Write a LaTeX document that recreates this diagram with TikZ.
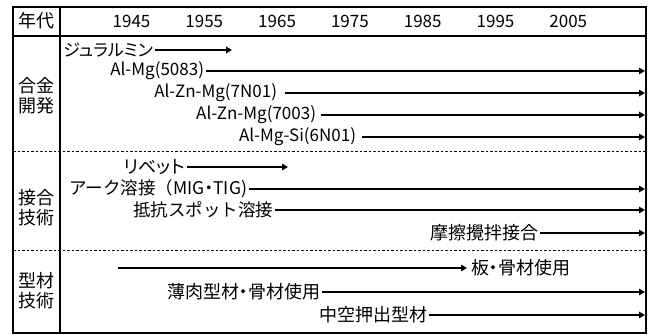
\documentclass[tikz,border=0pt]{standalone}
\usepackage{fontspec}
\newfontfamily\jp{Noto Sans CJK JP}
\newfontfamily\jpp{Noto Sans CJK JP}[RawFeature=+palt]
\usetikzlibrary{arrows.meta}
\begin{document}
\begin{tikzpicture}[x=1pt,y=-1pt,
  frame/.style={line width=2.2pt},
  sep/.style={line width=0.8pt,dash pattern=on 2.5pt off 2pt},
  lbl/.style={font=\jpp\fontsize{18}{20}\selectfont,inner ysep=0pt,inner xsep=1.8pt,anchor=east},
  lat/.style={lbl,font=\jpp\fontsize{17}{20}\selectfont},
  wide/.style={lbl,font=\jp\fontsize{17.5}{20}\selectfont},
  cat/.style={font=\jp\fontsize{18}{20}\selectfont,align=center,inner sep=0pt},
  yr/.style={font=\jp\fontsize{17}{20}\selectfont,inner sep=0pt},
  arr/.style={line width=1.6pt,-{Triangle[length=6pt,width=6.5pt]}}]
\useasboundingbox (0,0) rectangle (649,335);
% frame
\draw[frame] (13,7) rectangle (646,333);
\draw[frame] (60,7) -- (60,333);
\draw[line width=1.8pt] (13,36) -- (646,36);
\draw[sep] (13,151) -- (646,151);
\draw[sep] (13,250) -- (646,250);
% header
\node[cat] (hdr) at (36.5,21) {年代};
\node[yr] (y1945) at (131.5,21) {1945};
\node[yr] (y1955) at (204.3,21) {1955};
\node[yr] (y1965) at (277.1,21) {1965};
\node[yr] (y1975) at (349.9,21) {1975};
\node[yr] (y1985) at (422.7,21) {1985};
\node[yr] (y1995) at (495.5,21) {1995};
\node[yr] (y2005) at (568.3,21) {2005};
% categories
\node[cat] (c1) at (36.5,96) {合金\\開発};
\node[cat] (c2) at (36.5,208) {接合\\技術};
\node[cat] (c3) at (36.5,291) {型材\\技術};
% end coordinates
\coordinate (e1) at (232,50);
\coordinate (e2) at (645,71);
\coordinate (e3) at (645,93);
\coordinate (e4) at (645,115);
\coordinate (e5) at (645,137);
\coordinate (e6) at (288,167);
\coordinate (e7) at (645,189);
\coordinate (e8) at (645,210);
\coordinate (e9) at (645,233);
\coordinate (s10) at (118,268);
\coordinate (e11) at (645,292);
\coordinate (e12) at (645,315);
% texts
\node[lat] (t1) at (155,50) {ジュラルミン};
\node[lat] (t2) at (206,71) {Al-Mg(5083)};
\node[lat] (t3) at (285,93) {Al-Zn-Mg(7N01)\kern6pt};
\node[lat] (t4) at (321,115) {Al-Zn-Mg(7003)\kern3pt};
\node[lat] (t5) at (362,137) {Al-Mg-Si(6N01)\kern4pt};
\node[lbl] (t6) at (187,167) {リベット};
\node[wide] (t7) at (249,189) {アーク溶接（MIG{\jpp ・}TIG)};
\node[wide] (t8) at (275,210) {抵抗スポット溶接};
\node[lbl] (t9) at (540,233) {摩擦攪拌接合};
\node[lbl,anchor=west,inner xsep=4pt] (t10) at (467,268) {板・骨材使用};
\node[lbl] (t11) at (322,292) {薄肉型材・骨材使用};
\node[lbl] (t12) at (429,315) {中空押出型材};
% arrows
\draw[arr] (t1.east) -- (e1);
\draw[arr] (t2.east) -- (e2);
\draw[arr] (t3.east) -- (e3);
\draw[arr] (t4.east) -- (e4);
\draw[arr] (t5.east) -- (e5);
\draw[arr] (t6.east) -- (e6);
\draw[arr] (t7.east) -- (e7);
\draw[arr] (t8.east) -- (e8);
\draw[arr] (t9.east) -- (e9);
\draw[arr] (s10) -- (t10.west);
\draw[arr] (t11.east) -- (e11);
\draw[arr] (t12.east) -- (e12);
\end{tikzpicture}
\end{document}
